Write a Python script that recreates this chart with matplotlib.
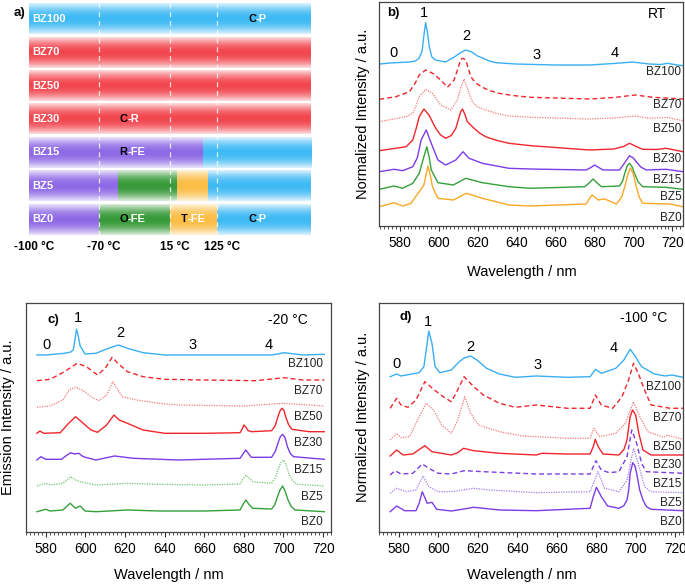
import numpy as np
import matplotlib
matplotlib.use('Agg')
import matplotlib.pyplot as plt
from matplotlib import transforms

plt.rcParams['font.family'] = ['Liberation Sans', 'DejaVu Sans']

# ---------------- panel a: phase diagram ----------------
a_rows = ['BZ100', 'BZ70', 'BZ50', 'BZ30', 'BZ15', 'BZ5', 'BZ0']
# (start, end, phase) on a 0..100 position scale
a_segments = {
    'BZ100': [(0, 100, 'C')],
    'BZ70': [(0, 100, 'R')],
    'BZ50': [(0, 100, 'R')],
    'BZ30': [(0, 100, 'R')],
    'BZ15': [(0, 61.7, 'RFE'), (61.7, 100, 'C')],
    'BZ5': [(0, 31.6, 'RFE'), (31.6, 52.5, 'O'), (52.5, 63.5, 'T'), (63.5, 100, 'C')],
    'BZ0': [(0, 24.8, 'RFE'), (24.8, 50, 'O'), (50, 66.7, 'T'), (66.7, 100, 'C')],
}
a_temp_labels = ['-100 °C', '-70 °C', '15 °C', '125 °C']
a_temp_pos = [0, 24.8, 50, 66.7]
a_phase_text = [('BZ100', 77.7, 'C-P'), ('BZ30', 32, 'C-R'), ('BZ15', 32, 'R-FE'),
                ('BZ0', 32, 'O-FE'), ('BZ0', 53.9, 'T-FE'), ('BZ0', 77.7, 'C-P')]
phase_colors = {'C': '#3fbaf5', 'R': '#f2474f', 'RFE': '#8e6ae6',
                'O': '#389a3a', 'T': '#fbbd45'}

# ---------------- panel b: RT spectra (wavelength nm, intensity a.u.) ----------------
b_bz100 = [(569.5, 160), (575, 161), (580, 161.5), (585, 162), (588, 163), (590, 166), (591.5, 173),
           (592.5, 190), (593.3, 201.3), (594.2, 192), (595.2, 177), (596.5, 167), (598.4, 164),
           (603.5, 162), (608, 167), (611, 171), (613.9, 174), (617, 172), (620, 168), (622.5, 166),
           (626, 163), (629.4, 161.3), (639.6, 160), (660, 159), (677.5, 159), (690, 160.5),
           (699.6, 162), (708, 160), (714, 159.5), (717.6, 160.7), (721, 159.5), (725.5, 158.3)]
b_bz70 = [(569.5, 124.7), (578, 127.3), (585, 132.3), (588, 141), (590, 149), (593.3, 154),
          (597.6, 150), (601.9, 142.3), (604.5, 136.7), (607.9, 144), (610, 156), (611.3, 164.7),
          (612.5, 165.7), (613.9, 164), (615, 157), (616.5, 147.3), (619, 141), (622.5, 136.7),
          (626, 133.5), (631, 130.7), (638, 128.5), (647.3, 126.7), (677.5, 125), (690, 126.5),
          (701, 129), (710, 126.7), (725.5, 125)]
b_bz50 = [(569.5, 102.3), (583.3, 107.3), (586.7, 110.7), (588.5, 119), (590, 127.3), (593.3, 134.7),
          (596.8, 130.7), (601, 119), (606.2, 114), (609.6, 124), (611.3, 136), (613, 145),
          (614.7, 135.7), (617.3, 122.3), (620, 117), (624.1, 114), (630, 110.5), (636.1, 108),
          (647, 106.7), (677.5, 105), (690, 106), (701, 108), (708, 105.7), (717.6, 106.5),
          (725.5, 103.3)]
b_bz30 = [(569.5, 73.3), (583.3, 77.3), (586.7, 84), (588.5, 96), (590, 107.3), (592.4, 115), (595, 109),
          (598.5, 95.7), (601, 89), (603.6, 85.7), (606.5, 88.5), (608.8, 95.7), (611.3, 112.3),
          (612.2, 115), (613.4, 110), (614.7, 102.3), (618.2, 95.7), (621, 91), (624.1, 87.3),
          (630, 83.5), (636.1, 80.7), (647.3, 78.3), (677.5, 74), (690, 75), (695, 77.5), (698, 80.7),
          (701.5, 77.5), (704.8, 74.7), (712, 74.5), (716.8, 75.7), (725.5, 72.3)]
b_bz15 = [(569.5, 52.3), (577.1, 54.7), (581.5, 53.3), (586.7, 57.3), (589, 66), (591, 84),
          (593.6, 94), (596.2, 80.7), (599.6, 64), (603.6, 59), (608.8, 64), (612.5, 72.3),
          (615.6, 65.7), (622.5, 60.7), (636.1, 55.7), (647, 55), (675.8, 54), (678.2, 56.5),
          (680.1, 59), (682.2, 56.5), (684.4, 54), (692.9, 54), (695.5, 61), (698, 68.3),
          (700, 66), (701.5, 62.3), (703.8, 57), (706.6, 54), (716.8, 54.7), (725.5, 52.3)]
b_bz5 = [(569.5, 34.7), (577.1, 38), (581.5, 35.7), (586.7, 40.7), (590, 50.7), (592.4, 67.3),
         (593.9, 77.3), (595.2, 66), (596.2, 54), (599.6, 41.3), (607.5, 39), (613.9, 45.7),
         (622.5, 41.3), (636.1, 37.3), (647, 35.7), (675, 37.3), (677.3, 41), (679.3, 45),
         (681.4, 41), (683.6, 37.3), (692.9, 38), (694.5, 43), (695.5, 50), (696.8, 58), (698, 60.7),
         (699.4, 57), (700.6, 50.7), (702.5, 42), (704.8, 37.3), (716.8, 36.7), (725.5, 34.7)]
b_bz0 = [(569.5, 17.3), (577.1, 21.3), (581.5, 18), (585.8, 20.7), (590, 32.3), (592.4, 39),
         (593.6, 50), (594.5, 58), (595.6, 50), (596.8, 37.3), (599.6, 25.7), (607.5, 24),
         (614.2, 30.7), (622.5, 25.7), (636.1, 19), (647, 18), (675.8, 20), (677.3, 25), (678.8, 29),
         (681.9, 24), (685.3, 25), (691.3, 20), (694, 27), (695.6, 37.3), (697.2, 50), (698.5, 56),
         (700, 50), (701.5, 37.3), (703, 27), (704.8, 20.7), (718.5, 20), (725.5, 17.3)]

# ---------------- panel c: -20 °C ----------------
c_bz100 = [(575.5, 176.7), (580, 176.7), (589.4, 178.4), (592.6, 179.7), (593.9, 182), (594.8, 193),
           (595.5, 202.4), (596.3, 196.7), (597.3, 186), (599.8, 177.7), (605.3, 178.4),
           (611.6, 183.4), (616.7, 186.7), (621.2, 183.4), (629.1, 179), (640, 176.7), (694, 176.7),
           (700.4, 179), (709.9, 176.7), (720.6, 177.4)]
c_bz70 = [(575.5, 151), (582.2, 152.4), (589.4, 160), (595.8, 168.4), (600.5, 165), (606.1, 156.7),
          (610, 163.4), (613.5, 174.4), (616.4, 168.4), (621.2, 160), (629.1, 155), (640, 152.4),
          (660, 151.7), (686, 151), (700.4, 154), (709.9, 151.7), (720.6, 151.7)]
c_bz50 = [(575.5, 124.4), (582.2, 125.7), (588.6, 131.7), (591.8, 141.7), (595, 144.4), (598.9, 141),
          (602.8, 135), (606.8, 131), (610.7, 136.7), (613.9, 150), (616.4, 141.7), (618.7, 135),
          (625.9, 131.7), (637, 128.4), (647, 126.7), (680, 125.7), (699.6, 128.4), (720.6, 125.7)]
c_bz30 = [(575.5, 98.4), (577, 100.7), (579, 98.4), (587.3, 99), (591.5, 108.4), (595, 115),
          (598.9, 108.4), (602.8, 101.7), (606.1, 99.4), (610.7, 106.7), (614.4, 116.7),
          (617.1, 111.7), (621.2, 108.4), (629.1, 101.7), (640, 98.4), (660, 98.4), (678.1, 99),
          (679.2, 103), (680, 106.7), (681, 104.5), (682.2, 101), (684, 100), (694, 101),
          (695.8, 106), (697.2, 115), (698.3, 121), (699.3, 123.4), (700.3, 121), (701.1, 115),
          (702.6, 107), (704.3, 102.4), (713, 100), (720.6, 100)]
c_bz15 = [(575.5, 71.7), (577.5, 75), (580, 72.4), (588, 72.4), (590, 75.7), (592.6, 79),
          (594.5, 77.7), (596.6, 78.4), (598.9, 75), (605.3, 71.7), (614.7, 75.7), (624.3, 73.4),
          (647, 71.7), (678.1, 73.4), (679.5, 77.5), (681, 81.7), (682.4, 78), (683.7, 74.4),
          (694, 74.4), (695.8, 80), (697.2, 88.4), (698.4, 95), (699.6, 97.4), (700.8, 94),
          (702, 85), (703.5, 78), (705.1, 75), (720.6, 72.4)]
c_bz5 = [(575.5, 45.7), (580, 48.4), (582.2, 46.7), (588.6, 48.4), (592.6, 55), (595, 51.7),
         (597.3, 50), (605.3, 46.7), (621.2, 48.4), (637, 47.4), (660, 46.7), (678.1, 47.7),
         (679.5, 52.5), (681, 56.7), (682.7, 53.5), (684.5, 50), (694, 48.4), (695.8, 54),
         (697.2, 61.7), (698.6, 69), (700, 71.7), (701.3, 67), (702.7, 58.4), (704.5, 51),
         (706.7, 47.4), (720.6, 45.7)]
c_bz0 = [(575.5, 20), (580, 22.4), (582.2, 20.7), (588.6, 21.7), (592.3, 28.4), (595, 23.4),
         (597.3, 25.7), (599.8, 20.7), (605.3, 20), (621.2, 21.7), (637, 20.7), (660, 20.7),
         (678.1, 21.7), (679.5, 27), (681, 31.7), (682.7, 27), (684.5, 23.4), (694, 22.7),
         (695.6, 27), (697, 35), (698.3, 42), (699.6, 45.7), (700.9, 40), (702.3, 31.7),
         (704, 25), (705.9, 21.7), (720.6, 20)]

# ---------------- panel d: -100 °C ----------------
d_bz100 = [(575.5, 155), (578.8, 157.7), (581, 155.7), (583.7, 156.7), (590.2, 159), (592.6, 165),
           (593.8, 181.7), (595.1, 200.7), (596.7, 188.4), (598.3, 165), (600.7, 159), (606.5, 161.7),
           (610.5, 170), (613, 173.7), (616.3, 175.7), (619.5, 171.7), (624.4, 163.4), (630.9, 157.7),
           (639, 154.4), (649.6, 155.7), (665.4, 154.4), (676.9, 155), (679.6, 162.4), (682.6, 158.4),
           (689.9, 163.4), (694, 171.7), (697.2, 182.4), (699.7, 175.7), (703, 165), (709.5, 157.7),
           (715, 155.7), (718.4, 156.7), (724, 154.4)]
d_bz70 = [(575.5, 123.4), (578.8, 133.4), (581, 126.7), (584.5, 124.4), (588.6, 131.7), (593.1, 150),
          (597.5, 142.4), (602.4, 135), (606.5, 130), (608.9, 138.4), (613, 155), (617.9, 145),
          (622.8, 136.7), (630.9, 128.4), (639, 124.4), (649.6, 126.7), (665.4, 123.4), (676.9, 123.4),
          (679.6, 136.7), (682.6, 126.7), (688.3, 123.4), (693.1, 135), (696.4, 151.7), (698.9, 168.4),
          (701.3, 158.4), (704.5, 141.7), (707.8, 126.7), (717.6, 123.4), (724, 123.4)]
d_bz50 = [(575.5, 91.7), (578.8, 98.4), (581, 94), (585.3, 95), (589.4, 111.7), (593.7, 128.4),
          (597.5, 121.7), (601.6, 106.7), (606.5, 98.4), (609.8, 111.7), (613.3, 135), (616.3, 118.4),
          (620.3, 106.7), (630.9, 100), (642.4, 95.7), (649.6, 95), (665.4, 93.4), (676.9, 93.4),
          (678.8, 103.4), (681.8, 95), (689.9, 98.4), (694.8, 108.4), (698.9, 130), (702.1, 115),
          (706.2, 100), (714.3, 94.4), (716, 96.7), (724, 92.4)]
d_bz30 = [(575.5, 75.7), (578.8, 81.7), (582.1, 76.7), (587, 77.7), (589.4, 81), (593.1, 86),
          (596.7, 80), (606.5, 76.7), (609.8, 79), (612.7, 83.4), (617.9, 81), (630.9, 78.4),
          (649.6, 76.7), (652.5, 78.4), (665, 77.7), (676.9, 77.7), (678.5, 85), (679.5, 92.4),
          (681, 85), (683.4, 77.7), (691.5, 76.7), (694, 82), (695.6, 91.7), (697.2, 115),
          (698.4, 121.7), (700, 116.7), (701.6, 98.4), (703.7, 81.7), (707.8, 76.7), (724, 76.7)]
d_bz15 = [(575.5, 56.7), (578, 61), (581, 57.7), (587, 58.4), (591.8, 67.7), (595.1, 63.4),
          (599.9, 58.4), (606.5, 57.7), (613, 61), (622.8, 60), (649.6, 57.7), (676.9, 57.7),
          (679.8, 71), (682.6, 61.7), (686.6, 59), (691.5, 60), (695.6, 75), (698, 101.7),
          (700.5, 88.4), (703, 68.4), (705.4, 60), (724, 58.4)]
d_bz5 = [(575.5, 38.4), (578.8, 43.4), (583.7, 40), (588.6, 41.7), (592.2, 55.7), (595.1, 45),
         (599.9, 40), (606.5, 40), (617.9, 43.4), (626, 41.7), (649.6, 39), (676.9, 40),
         (680.9, 60), (684.2, 43.4), (691.5, 40), (695.6, 51.7), (698.9, 83.4), (701.3, 68.4),
         (704.5, 45), (707.8, 40), (724, 39)]
d_bz0 = [(575.5, 20), (578.8, 25.7), (582.9, 21), (588.6, 21), (590.2, 28.4), (591.8, 40),
         (594.3, 28.4), (596.7, 29.4), (599.1, 22.4), (606.5, 20.7), (613, 22.7), (617.9, 24.4),
         (622.8, 23.4), (630.9, 21.7), (649.6, 21), (676.9, 23.4), (678.5, 35), (680.1, 44.4),
         (682.6, 35), (685.8, 25.7), (691.5, 23.4), (694, 26), (695.6, 31.7), (696.5, 42),
         (697.2, 58.4), (698.5, 69), (699.6, 66), (700.5, 58.4), (702, 42), (703.7, 31.7),
         (705.5, 25), (707.8, 22.4), (724, 21)]

# curve label heights and peak-number positions
b_label_y = [152.3, 119, 95, 65, 44, 27, 6]
c_label_y = [167.7, 140.7, 114.7, 88.7, 61.7, 34.7, 9.7]
d_label_y = [145, 113.4, 85, 66.7, 47.7, 29, 10]
peak_names = ['0', '1', '2', '3', '4']
b_peak_pos = [(576.9, 171), (592.3, 211), (614.4, 188), (650.3, 169), (690.4, 171)]
c_peak_pos = [(580.2, 186.7), (596.4, 213.7), (617.8, 198.7), (654, 186.7), (692.6, 186.7)]
d_peak_pos = [(578.8, 167.7), (594.9, 209.7), (615.9, 184.7), (650.1, 166.7), (688.8, 183.7)]

blue = '#3aaef2'
red = '#f0262c'
pink = '#f47a7a'
purple = '#7d3ce6'
lpurple = '#a47cf0'
green = '#35a03a'
lgreen = '#70c470'
orange = '#f9a824'
names = ['BZ100', 'BZ70', 'BZ50', 'BZ30', 'BZ15', 'BZ5', 'BZ0']

fig = plt.figure(figsize=(6.85, 5.84), dpi=100)

# ---- panel a ----
axa = fig.add_axes([29 / 685, 348 / 584, 282 / 685, 234 / 584])
axa.set_xlim(0, 100)
axa.set_ylim(6.5, -0.5)
axa.axis('off')
t = np.linspace(0, 1, 40)
mix = 0.2 + 0.8 * np.clip(1 - (2 * t - 1) ** 2, 0, 1) ** 1.1
for i, row in enumerate(a_rows):
    for x0, x1, ph in a_segments[row]:
        rgb = np.array(matplotlib.colors.to_rgb(phase_colors[ph]))
        img = 1 - mix[:, None, None] * (1 - rgb[None, None, :])
        axa.imshow(img, extent=(x0, x1, i + 0.46, i - 0.46), aspect='auto',
                   interpolation='bilinear', zorder=1)
    axa.text(1, i, row, color='white', fontsize=8, fontweight='bold',
             va='center', ha='left', zorder=4)
for xp in a_temp_pos[1:]:
    axa.plot([xp, xp], [-0.48, 6.48], color='white', lw=0.9, ls=(0, (4, 3)),
             alpha=0.8, zorder=3)
for row, xp, txt in a_phase_text:
    i = a_rows.index(row)
    first = axa.text(xp, i, txt[0], color='black', fontsize=8, fontweight='bold',
                     va='center', ha='left', zorder=5)
    axa.annotate(txt[1:], xy=(1, 0.5), xycoords=first, color='white', fontsize=8,
                 fontweight='bold', va='center', ha='left', zorder=5)
tr = transforms.offset_copy(axa.get_xaxis_transform(), fig=fig, x=5, y=0, units='dots')
for xp, lab in zip(a_temp_pos, a_temp_labels):
    axa.text(xp, -0.047, lab, transform=tr, ha='center', va='center',
             fontsize=8.5, fontweight='bold')
fig.text(19 / 685, 1 - 13 / 584, 'a)', ha='center', va='center', fontsize=9.5,
         fontweight='bold')


def spectra_panel(rect, xlim, ylim, curves, label_y, peak_pos, tag, temp, temp_x, temp_y,
                  tag_x, tag_y, ylabel, ylab_x, xlab_y):
    ax = fig.add_axes(rect)
    for name, pts, col, ls in curves:
        wl, inten = zip(*pts)
        if ls == '--':
            ax.plot(wl, inten, color=col, lw=1.0, ls=(0, (3.5, 2.2)))
        elif ls == ':':
            ax.plot(wl, inten, color=col, lw=0.9, ls=(0, (1, 1)))
        else:
            ax.plot(wl, inten, color=col, lw=1.0)
    for name, yy in zip(names, label_y):
        ax.text(xlim[1] - 0.8, yy, name, ha='right', va='center', fontsize=8.5, color='#222222')
    for pn, (px, py) in zip(peak_names, peak_pos):
        ax.text(px, py, pn, ha='center', va='center', fontsize=10.5)
    ax.text(tag_x, tag_y, tag, ha='left', va='center', fontsize=9.5, fontweight='bold')
    ax.text(temp_x, temp_y, temp, ha='center', va='center', fontsize=10)
    ax.set_xlim(*xlim)
    ax.set_ylim(*ylim)
    ax.set_yticks([])
    ax.set_xticks(np.arange(580, 721, 20))
    ax.set_xticks(np.arange(570, 726, 2), minor=True)
    ax.tick_params(axis='x', which='major', direction='out', length=3.5, width=0.8,
                   labelsize=9.8, pad=4, colors='#333333', labelcolor='black')
    ax.tick_params(axis='x', which='minor', direction='out', length=2, width=0.6,
                   colors='#333333')
    for sp in ax.spines.values():
        sp.set_color('#444444')
        sp.set_linewidth(0.9)
    ax.set_xlabel('Wavelength / nm', fontsize=10.5)
    ax.xaxis.set_label_coords(0.47, xlab_y)
    ax.set_ylabel(ylabel, fontsize=10.5)
    ax.yaxis.set_label_coords(ylab_x, 0.5)
    return ax


b_curves = [('BZ100', b_bz100, blue, '-'), ('BZ70', b_bz70, red, '--'), ('BZ50', b_bz50, pink, ':'),
            ('BZ30', b_bz30, red, '-'), ('BZ15', b_bz15, purple, '-'), ('BZ5', b_bz5, green, '-'),
            ('BZ0', b_bz0, orange, '-')]
c_curves = [('BZ100', c_bz100, blue, '-'), ('BZ70', c_bz70, red, '--'), ('BZ50', c_bz50, pink, ':'),
            ('BZ30', c_bz30, red, '-'), ('BZ15', c_bz15, purple, '-'), ('BZ5', c_bz5, lgreen, ':'),
            ('BZ0', c_bz0, green, '-')]
d_curves = [('BZ100', d_bz100, blue, '-'), ('BZ70', d_bz70, red, '--'), ('BZ50', d_bz50, pink, ':'),
            ('BZ30', d_bz30, red, '-'), ('BZ15', d_bz15, purple, '--'), ('BZ5', d_bz5, lpurple, ':'),
            ('BZ0', d_bz0, purple, '-')]

spectra_panel([379.3 / 685, 358 / 584, 303.7 / 685, 224 / 584], (569.5, 725.5), (-2, 222),
              b_curves, b_label_y, b_peak_pos, 'b)', 'RT', 712.4, 210, 573.8, 211,
              'Normalized Intensity / a.u.', -0.031, -0.175)
spectra_panel([26 / 685, 52.3 / 584, 305 / 685, 229 / 584], (575.5, 720.6), (0, 229),
              c_curves, c_label_y, c_peak_pos, 'c)', '-20 °C', 702, 211.7, 580.7, 211.7,
              'Emission Intensity / a.u.', -0.036, -0.16)
spectra_panel([379.3 / 685, 52.3 / 584, 303.7 / 685, 228.7 / 584], (575.5, 724), (0, 228.7),
              d_curves, d_label_y, d_peak_pos, 'd)', '-100 °C', 703.9, 213.7, 580.2, 214.7,
              'Normalized Intensity / a.u.', -0.031, -0.16)

fig.savefig('out.png', dpi=100)
